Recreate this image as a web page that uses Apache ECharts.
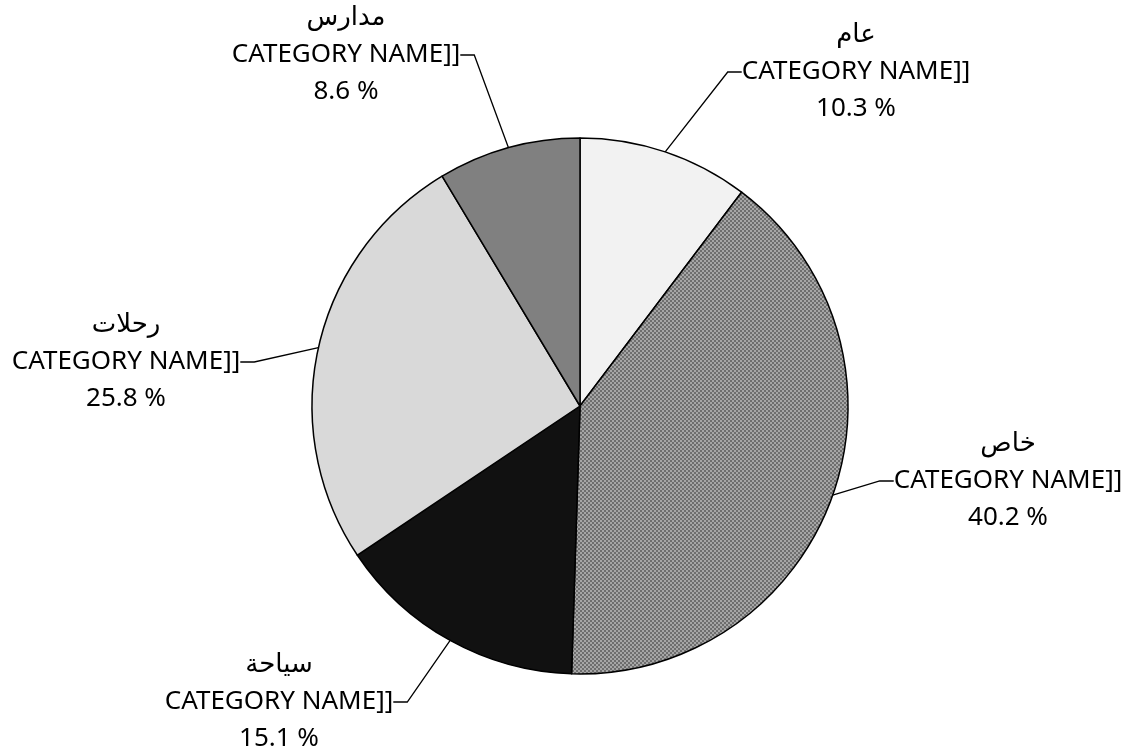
<!DOCTYPE html>
<html>
<head>
<meta charset="utf-8">
<script src="https://cdn.jsdelivr.net/npm/echarts@6/dist/echarts.min.js"></script>
<style>
html, body { margin: 0; padding: 0; background: #fff; }
#chart { width: 1134px; height: 756px; }
</style>
</head>
<body>
<div id="chart"></div>
<script>
// slices, clockwise from 12 o'clock
const names = ['عام', 'خاص', 'سياحة', 'رحلات', 'مدارس'];
const values = [10.3, 40.2, 15.1, 25.8, 8.6];
const pctLabels = ['10.3 %', '40.2 %', '15.1 %', '25.8 %', '8.6 %'];
const placeholder = 'CATEGORY NAME]]';

// checker pattern for the big slice
function checker() {
  const c = document.createElement('canvas');
  c.width = 4; c.height = 4;
  const ctx = c.getContext('2d');
  ctx.fillStyle = '#6e6e6e'; ctx.fillRect(0, 0, 4, 4);
  ctx.fillStyle = '#a6a6a6'; ctx.fillRect(0, 0, 2, 2); ctx.fillRect(2, 2, 2, 2);
  return c;
}

const fills = ['#f2f2f2', { image: checker(), repeat: 'repeat' }, '#111111', '#d9d9d9', '#808080'];
// label block centres (middle line), in px
const labelPos = [[856, 72], [1008, 481], [279, 702], [126, 362], [346, 55]];

const chart = echarts.init(document.getElementById('chart'));

chart.setOption({
  animation: false,
  series: [{
    type: 'pie',
    center: [580, 406],
    radius: 268,
    startAngle: 90,
    clockwise: true,
    avoidLabelOverlap: false,
    itemStyle: { borderColor: '#000', borderWidth: 1.5 },
    label: {
      show: true,
      position: 'outside',
      color: '#000',
      fontFamily: 'Noto Sans, DejaVu Sans, sans-serif',
      fontSize: 26,
      lineHeight: 37,
      formatter: p => names[p.dataIndex] + '\n' + placeholder + '\n' + pctLabels[p.dataIndex]
    },
    labelLine: {
      show: true,
      length: 20,
      length2: 14,
      lineStyle: { color: '#000', width: 1.3 }
    },
    labelLayout: p => ({
      x: labelPos[p.dataIndex][0],
      y: labelPos[p.dataIndex][1],
      align: 'center',
      verticalAlign: 'middle'
    }),
    emphasis: { disabled: true },
    data: names.map((n, i) => ({ name: n, value: values[i], itemStyle: { color: fills[i] } }))
  }]
});
</script>
</body>
</html>
